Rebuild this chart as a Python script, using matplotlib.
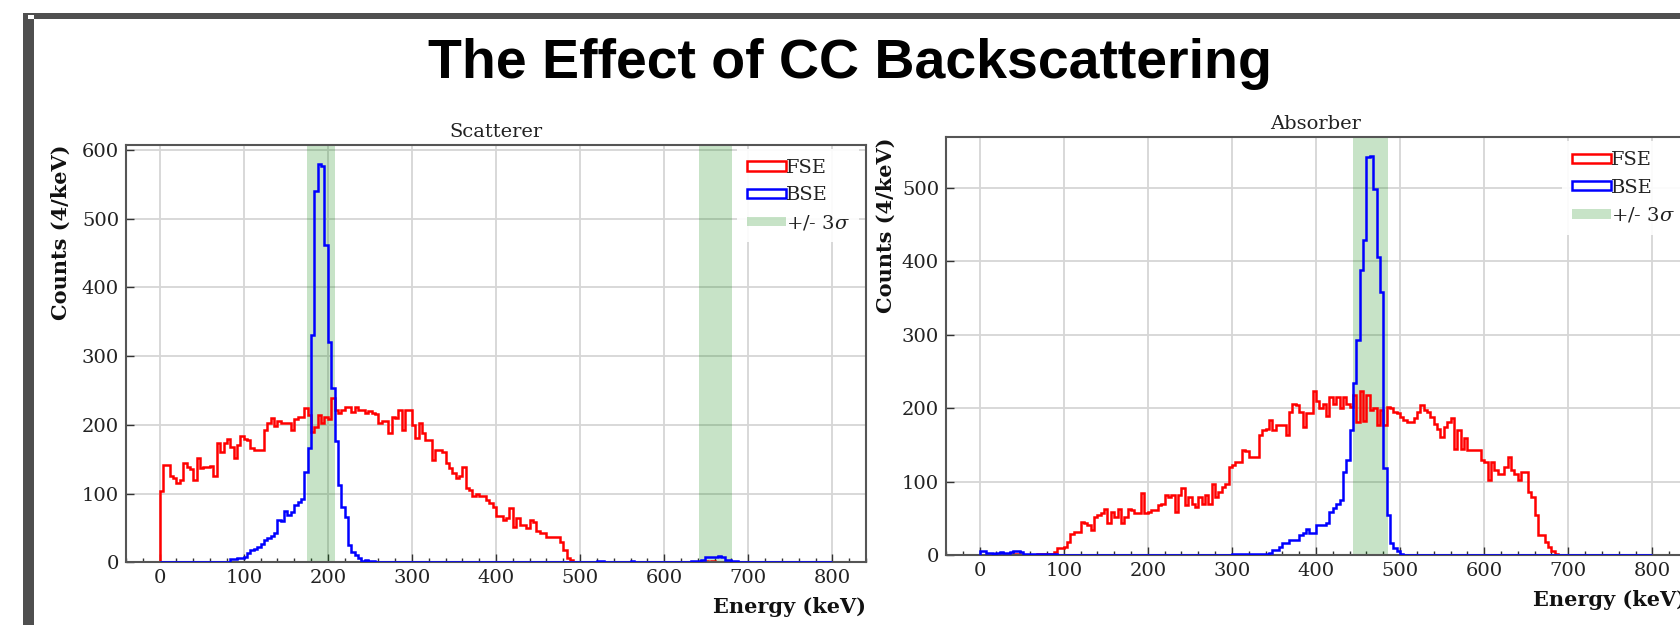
import numpy as np
import matplotlib
matplotlib.use("Agg")
import matplotlib.pyplot as plt
from matplotlib.patches import Rectangle
from matplotlib.ticker import MultipleLocator

# ---------------- data (counts per 4 keV bin) ----------------
BIN_WIDTH = 4
E_MAX = 800

# Scatterer, FSE (starts at 0 keV)
sc_fse_start = 0
sc_fse = [103, 142, 142, 125, 122, 115, 120, 144, 138, 136,
          120, 151, 137, 138, 138, 140, 125, 173, 161, 173,
          180, 168, 151, 170, 183, 180, 178, 166, 163, 163,
          163, 193, 202, 210, 198, 205, 203, 203, 202, 193,
          208, 211, 211, 224, 214, 190, 197, 214, 202, 211,
          208, 239, 222, 217, 222, 226, 226, 219, 226, 222,
          222, 217, 220, 217, 215, 202, 205, 205, 188, 212,
          210, 222, 192, 222, 222, 200, 181, 202, 188, 178,
          178, 149, 164, 164, 161, 144, 137, 130, 122, 125,
          139, 108, 105, 97, 100, 97, 96, 91, 86, 81,
          67, 67, 62, 64, 79, 52, 64, 54, 54, 50,
          62, 59, 45, 42, 42, 37, 37, 37, 37, 30,
          18, 6, 3, 1, 0]
sc_fse_tail_start = 640
sc_fse_tail = [1, 2, 2, 1, 2, 1, 1]

# Scatterer, BSE
sc_bse_start = 80
sc_bse = [1, 5, 5, 6, 6, 7, 13, 18, 20, 22,
          26, 32, 35, 38, 43, 62, 60, 74, 69, 73,
          83, 87, 92, 132, 166, 331, 540, 579, 576, 462,
          321, 253, 176, 113, 81, 66, 25, 15, 11, 6,
          2, 3, 2, 2, 1]
sc_bse_mid_start = 520
sc_bse_mid = [2, 2, 1, 0, 0, 0, 0, 0, 0, 0, 2]
sc_bse_bump_start = 632
sc_bse_bump = [2, 2, 2, 4, 7, 7, 7, 8, 9, 7, 4, 3, 2, 2]

# Absorber, FSE
ab_fse_start = 40
ab_fse = [2, 2, 0, 0, 0, 0, 0, 1, 1, 1,
          1, 1, 4, 9, 9, 11, 18, 29, 32, 32,
          45, 43, 41, 34, 52, 54, 57, 63, 43, 59,
          52, 63, 43, 52, 63, 61, 57, 57, 84, 57,
          59, 61, 61, 68, 70, 82, 79, 82, 59, 82,
          91, 68, 79, 70, 66, 79, 70, 82, 70, 97,
          79, 86, 93, 97, 120, 122, 127, 127, 143, 141,
          134, 134, 134, 163,
          170, 172, 184, 170, 177, 177, 177, 163, 195, 206,
          204, 195, 175, 193, 193, 224, 210, 200, 206, 190,
          215, 206, 215, 200, 215, 206, 202, 218, 181, 224,
          183, 218, 197, 200, 177, 197, 177, 202, 200, 195,
          193, 188, 184, 181, 181, 186, 195, 204, 197, 195,
          188, 179, 172, 161, 175, 181, 186, 145, 170, 145,
          159, 143, 143, 143, 143, 129, 127, 102, 127, 116,
          111, 111, 120, 134, 116, 111, 102, 113, 113, 86,
          79, 54, 27, 27, 18, 11, 5, 2]

# Absorber, BSE
ab_bse_low_start = 0
ab_bse_low = [6, 6, 3, 3, 2, 3, 4, 3, 3, 4, 5, 6, 4, 1, 1, 1, 1, 1, 1, 1,
              1, 1, 1]
ab_bse_start = 300
ab_bse = [1, 1, 2, 1, 1, 1, 1, 1, 1, 2, 2, 3, 7, 7, 11, 16, 16, 20, 20, 20,
          27, 30, 36, 30, 30, 41, 41, 41, 43, 59, 64, 70, 75, 113, 129, 170,
          234, 293, 388, 429, 542, 544, 499, 406, 358, 118, 54, 16, 9, 5, 2]

# +/- 3 sigma windows (centre, 3 sigma) in keV
sc_peaks = [192, 661]
sc_3sig = [17, 20]
ab_peaks = [465]
ab_3sig = [21]

edges = np.arange(0, E_MAX + BIN_WIDTH, BIN_WIDTH)
centers = 0.5 * (edges[:-1] + edges[1:])


def build(*segments):
    counts = np.zeros(len(centers))
    for start, vals in segments:
        i0 = int(start // BIN_WIDTH)
        counts[i0:i0 + len(vals)] = vals
    return counts


sc_fse_c = build((sc_fse_start, sc_fse), (sc_fse_tail_start, sc_fse_tail))
sc_bse_c = build((sc_bse_start, sc_bse), (sc_bse_mid_start, sc_bse_mid),
                 (sc_bse_bump_start, sc_bse_bump))
ab_fse_c = build((ab_fse_start, ab_fse))
ab_bse_c = build((ab_bse_low_start, ab_bse_low), (ab_bse_start, ab_bse))

# ---------------- figure ----------------
plt.rcParams['font.family'] = ['DejaVu Serif']
plt.rcParams['mathtext.fontset'] = 'dejavuserif'

W, H = 1680, 625
fig = plt.figure(figsize=(W / 100, H / 100), dpi=100)
fig.patch.set_facecolor('white')


def fx(px):
    return px / W


def fy(py):
    return 1 - py / H


# slide frame
frame_col = '#4f4f4f'
fig.patches.append(Rectangle((fx(23), fy(19)), fx(1680 - 23), 6.3 / H,
                             transform=fig.transFigure, color=frame_col, lw=0))
fig.patches.append(Rectangle((fx(22.7), 0), 11.3 / W, fy(12.7),
                             transform=fig.transFigure, color=frame_col, lw=0))
fig.patches.append(Rectangle((fx(28.5), fy(19)), 5.5 / W, 3.5 / H,
                             transform=fig.transFigure, color='white', lw=0))

fig.text(0.506, fy(78), "The Effect of CC Backscattering",
         fontfamily='Liberation Sans', fontweight='bold', fontsize=40,
         ha='center', va='baseline', color='black')


def style_axes(ax, title, ymax, yticks, ylabelpad):
    ax.set_xlim(-40, 840)
    ax.set_ylim(0, ymax)
    ax.set_xticks(np.arange(0, 801, 100))
    ax.set_yticks(yticks)
    ax.xaxis.set_minor_locator(MultipleLocator(20))
    ax.tick_params(which='major', direction='in', length=6, width=1.0,
                   labelsize=14, pad=5, color='#333333', labelcolor='#222222')
    ax.tick_params(which='minor', direction='in', length=3, width=1.0,
                   color='#333333')
    ax.tick_params(axis='y', which='minor', left=False)
    for s in ax.spines.values():
        s.set_color('#555555')
        s.set_linewidth(1.5)
    ax.set_axisbelow(True)
    ax.grid(which='major', color='#d6d6d6', linewidth=1.3)
    ax.set_title(title, fontsize=14, pad=6, color='#222222')
    ax.set_xlabel('Energy (keV)', loc='right', fontweight='bold',
                  fontsize=15, labelpad=7, color='#111111')
    ax.set_ylabel('Counts (4/keV)', loc='top', fontweight='bold',
                  fontsize=15, labelpad=ylabelpad, color='#111111')


def draw_panel(ax, fse, bse, peaks, sig, leg_x):
    ax.hist(centers, bins=edges, weights=fse, histtype='step',
            color='#ff0000', linewidth=1.8, label='FSE', zorder=2)
    ax.hist(centers, bins=edges, weights=bse, histtype='step',
            color='#0000ff', linewidth=1.8, label='BSE', zorder=3)
    for k, (p, s) in enumerate(zip(peaks, sig)):
        ax.axvspan(p - s, p + s, color='green', alpha=0.22, lw=0,
                   zorder=0.9, label='+/- 3$\\sigma$' if k == 0 else None)
    leg = ax.legend(loc='upper right', bbox_to_anchor=(leg_x, 0.99),
                    fontsize=14, handlelength=2.0, handleheight=0.37,
                    handletextpad=0.0, labelspacing=0.48, borderpad=0.5,
                    borderaxespad=0, frameon=True, framealpha=0.9,
                    edgecolor='none', fancybox=False)
    for t in leg.get_texts():
        t.set_color('#222222')


ax1 = fig.add_axes([fx(126), fy(562.3), 740 / W, (562.3 - 145) / H])
draw_panel(ax1, sc_fse_c, sc_bse_c, sc_peaks, sc_3sig, 0.991)
style_axes(ax1, 'Scatterer', 607, np.arange(0, 601, 100), 8)

ax2 = fig.add_axes([fx(946), fy(555), 740 / W, (555 - 137.3) / H])
draw_panel(ax2, ab_fse_c, ab_bse_c, ab_peaks, ab_3sig, 0.998)
style_axes(ax2, 'Absorber', 569, np.arange(0, 501, 100), 4.5)

fig.savefig('out.png', dpi=100, facecolor='white')
